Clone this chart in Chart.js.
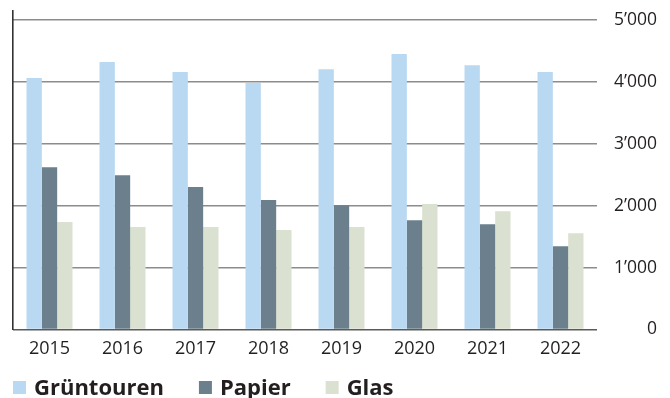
<!DOCTYPE html>
<html>
<head>
<meta charset="utf-8">
<script src="https://cdn.jsdelivr.net/npm/chart.js@4/dist/chart.umd.min.js"></script>
<style>
  html, body { margin: 0; padding: 0; background: #fff; }
  #wrap { width: 670px; height: 398px; position: relative; }
</style>
</head>
<body>
<div id="wrap"><canvas id="abfall"></canvas></div>
<script>
// Jahre und Mengen (Tonnen)
const years = ['2015', '2016', '2017', '2018', '2019', '2020', '2021', '2022'];
const gruentouren = [4060, 4315, 4155, 3980, 4200, 4445, 4265, 4155];
const papier = [2620, 2490, 2300, 2090, 2005, 1765, 1700, 1345];
const glas = [1735, 1655, 1655, 1605, 1655, 2025, 1910, 1555];
const yTicks = [0, 1000, 2000, 3000, 4000, 5000];

const seriesNames = ['Grüntouren', 'Papier', 'Glas'];
const seriesColors = ['#b9d9f2', '#6b808c', '#dbe1d0'];
const fontFamily = '"Open Sans", "Noto Sans", sans-serif';
const textColor = '#231f20';

// 5000 -> 5’000
function fmt(v) {
  if (v < 1000) return String(v);
  const k = Math.floor(v / 1000);
  const r = String(v % 1000).padStart(3, '0');
  return k + '\u2019' + r;
}

// eigene Legende unten links
const bottomLegend = {
  id: 'bottomLegend',
  afterDraw(chart) {
    const ctx = chart.ctx;
    ctx.save();
    ctx.font = 'bold 22px ' + fontFamily;
    ctx.textBaseline = 'alphabetic';
    let x = 13;
    chart.data.datasets.forEach((ds) => {
      ctx.fillStyle = ds.backgroundColor;
      ctx.fillRect(x, 381, 13, 13);
      x += 13 + 8;
      ctx.fillStyle = textColor;
      ctx.fillText(ds.label, x, 395);
      x += ctx.measureText(ds.label).width + 35;
    });
    ctx.restore();
  }
};

const ctx = document.getElementById('abfall');
new Chart(ctx, {
  type: 'bar',
  data: {
    labels: years,
    datasets: [gruentouren, papier, glas].map((d, i) => ({
      label: seriesNames[i],
      data: d,
      backgroundColor: seriesColors[i],
      borderWidth: 0,
      categoryPercentage: 0.63,
      barPercentage: 1.0
    }))
  },
  options: {
    responsive: true,
    maintainAspectRatio: false,
    animation: false,
    layout: { padding: { left: 13, top: 11, right: 13, bottom: 30 } },
    plugins: {
      legend: { display: false },
      tooltip: { enabled: false }
    },
    scales: {
      x: {
        grid: { display: false, drawTicks: false },
        border: { display: false },
        ticks: { color: textColor, font: { family: fontFamily, size: 18 }, padding: 9 },
        afterFit: (s) => { s.height = 38.5; s.paddingLeft = 0; s.paddingRight = 0; }
      },
      y: {
        position: 'right',
        min: 0,
        max: 5140,
        afterBuildTicks: (s) => {
          s.ticks = yTicks.map((v) => ({ value: v }));
        },
        ticks: {
          includeBounds: false,
          stepSize: 1000,
          color: textColor,
          font: { family: fontFamily, size: 17.5 },
          crossAlign: 'far',
          padding: 10,
          callback: (v) => fmt(v)
        },
        grid: {
          drawTicks: false,
          lineWidth: 1.6,
          color: (c) => (c.tick && c.tick.value === 0 ? '#5a5a5a' : '#8c8c8c')
        },
        border: { display: false },
        afterFit: (s) => { s.width = 60; s.paddingTop = 0; s.paddingBottom = 0; }
      },
      yLeft: {
        position: 'left',
        min: 0,
        max: 5140,
        ticks: { display: false },
        grid: { drawOnChartArea: false, drawTicks: false },
        border: { display: true, color: '#333333', width: 1.6 },
        afterFit: (s) => { s.width = 0; s.paddingTop = 0; s.paddingBottom = 0; }
      }
    }
  },
  plugins: [bottomLegend]
});
</script>
</body>
</html>
